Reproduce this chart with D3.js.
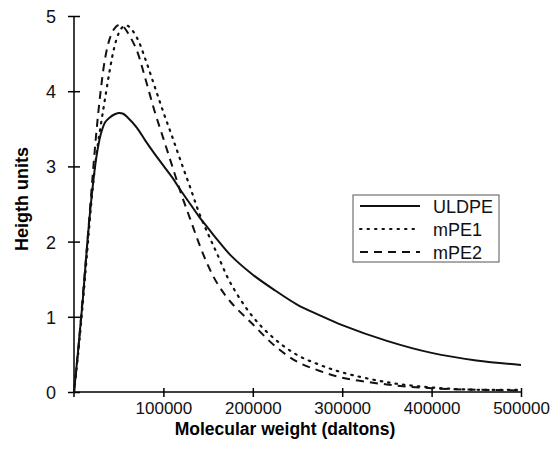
<!DOCTYPE html>
<html>
<head>
<meta charset="utf-8">
<script src="https://cdn.jsdelivr.net/npm/d3@7"></script>
<style>
  body { margin: 0; background: #fff; }
  svg { display: block; font-family: "Liberation Sans", Arial, sans-serif; }
</style>
</head>
<body>
<svg id="chart" width="554" height="449"></svg>
<script>
// molecular weight (daltons), shared by all three curves
var mw = [0, 5000, 10000, 15000, 20000, 25000, 30000, 35000, 40000, 45000, 50000, 55000, 60000,
  70000, 80000, 90000, 100000, 110000, 120000, 130000, 140000, 150000, 160000, 175000, 200000,
  225000, 250000, 275000, 300000, 350000, 400000, 450000, 500000];

var uldpe = [0, 0.6, 1.25, 2.0, 2.63, 3.12, 3.43, 3.59, 3.65, 3.69, 3.71, 3.7, 3.65,
  3.52, 3.34, 3.17, 3.01, 2.85, 2.67, 2.5, 2.33, 2.18, 2.03, 1.82, 1.56,
  1.35, 1.16, 1.02, 0.89, 0.68, 0.52, 0.42, 0.36];

var mpe1 = [0, 0.55, 1.2, 1.9, 2.6, 3.15, 3.55, 3.92, 4.28, 4.58, 4.77, 4.86, 4.87,
  4.72, 4.42, 4.07, 3.72, 3.39, 3.05, 2.72, 2.38, 2.1, 1.84, 1.45, 1.0,
  0.7, 0.49, 0.36, 0.26, 0.13, 0.06, 0.03, 0.03];

var mpe2 = [0, 0.6, 1.3, 2.0, 2.75, 3.45, 4.02, 4.45, 4.7, 4.83, 4.88, 4.86, 4.78,
  4.55, 4.16, 3.74, 3.37, 3.0, 2.63, 2.3, 1.97, 1.68, 1.45, 1.2, 0.9,
  0.61, 0.4, 0.28, 0.19, 0.1, 0.05, 0.03, 0.02];

var seriesNames = ["ULDPE", "mPE1", "mPE2"];
var xTicks = [100000, 200000, 300000, 400000, 500000];
var yTicks = [0, 1, 2, 3, 4, 5];

var svg = d3.select("#chart");

var x = d3.scaleLinear().domain([0, 500000]).range([74, 521]);
var y = d3.scaleLinear().domain([0, 5]).range([392, 16]);

// y axis, ticks cross the line
var gy = svg.append("g")
  .attr("transform", "translate(74,0)")
  .call(d3.axisLeft(y).tickValues(yTicks).tickSize(6).tickPadding(12).tickFormat(d3.format("d")));
gy.select(".domain").attr("d", "M0," + y(5) + "V" + (y(0) + 5)).attr("stroke-width", 1.5);
gy.selectAll(".tick line").attr("x1", 6).attr("x2", -6).attr("stroke-width", 1.5);
gy.selectAll(".tick text")
  .style("font-size", "18px")
  .attr("fill", "#111")
  .attr("dy", "0.36em");

// x axis
var gx = svg.append("g")
  .attr("transform", "translate(0,392)")
  .call(d3.axisBottom(x).tickValues(xTicks).tickSize(4).tickPadding(6).tickFormat(d3.format("d")));
gx.select(".domain").attr("d", "M" + x(0) + ",0H" + x(500000)).attr("stroke-width", 1.5);
gx.selectAll(".tick line").attr("y1", -4).attr("y2", 5).attr("stroke-width", 1.5);
gx.selectAll(".tick text")
  .style("font-size", "17px")
  .attr("fill", "#111");

// axis titles
svg.append("text")
  .attr("x", 285)
  .attr("y", 435)
  .attr("text-anchor", "middle")
  .style("font-size", "17.5px")
  .style("font-weight", "bold")
  .text("Molecular weight (daltons)");

svg.append("text")
  .attr("transform", "translate(28,199) rotate(-90)")
  .attr("text-anchor", "middle")
  .style("font-size", "18px")
  .style("font-weight", "bold")
  .text("Heigth units");

// curves
var styles = [
  { data: uldpe, dash: null },
  { data: mpe1, dash: "1.5,6" },
  { data: mpe2, dash: "8,6" }
];

var line = d3.line()
  .x(function(d, i) { return x(mw[i]); })
  .y(function(d) { return y(d); })
  .curve(d3.curveCatmullRom.alpha(0.5));

styles.forEach(function(s) {
  svg.append("path")
    .datum(s.data)
    .attr("fill", "none")
    .attr("stroke", "#111")
    .attr("stroke-width", s.dash === "1.5,6" ? 2.2 : 2)
    .attr("stroke-linecap", s.dash === "1.5,6" ? "round" : "butt")
    .attr("stroke-dasharray", s.dash)
    .attr("d", line);
});

// legend
var legend = svg.append("g");
legend.append("rect")
  .attr("x", 353).attr("y", 195)
  .attr("width", 146).attr("height", 67)
  .attr("fill", "#fff")
  .attr("stroke", "#555")
  .attr("stroke-width", 1);

seriesNames.forEach(function(name, i) {
  var ly = 206 + i * 23;
  legend.append("line")
    .attr("x1", 360).attr("x2", 420)
    .attr("y1", ly).attr("y2", ly)
    .attr("stroke", "#111")
    .attr("stroke-width", 2)
    .attr("stroke-linecap", i === 1 ? "round" : "butt")
    .attr("stroke-dasharray", styles[i].dash);
  legend.append("text")
    .attr("x", 433)
    .attr("y", ly + 7)
    .style("font-size", "18px")
    .attr("fill", "#111")
    .text(name);
});
</script>
</body>
</html>
